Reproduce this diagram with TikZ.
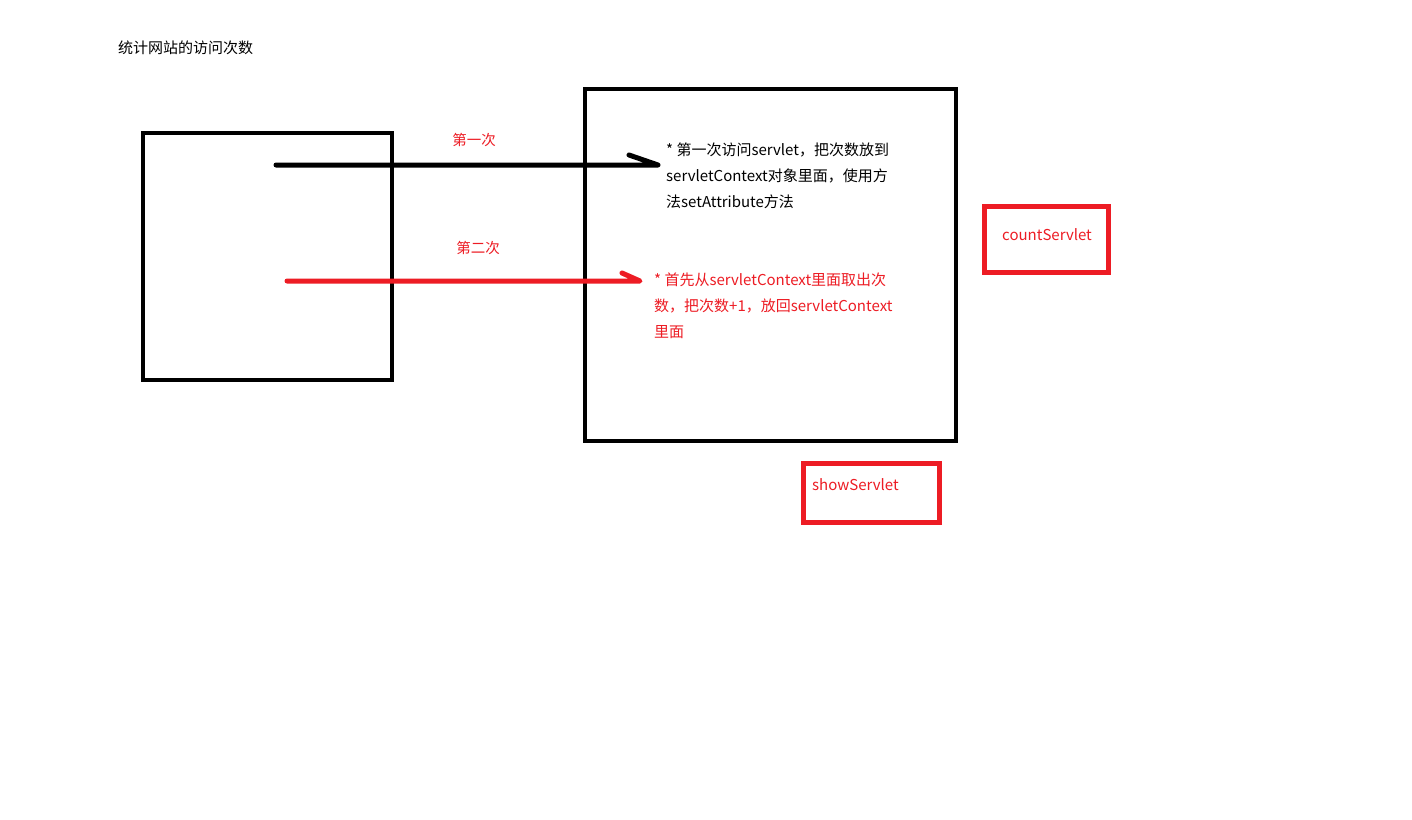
\documentclass[tikz,border=0pt]{standalone}
\usepackage{fontspec}
\setmainfont{Noto Sans CJK SC}
\definecolor{pred}{HTML}{ED1C24}
\begin{document}
\begin{tikzpicture}[x=1pt,y=-1pt,
  box/.style={draw=black,line width=4.5pt},
  rbox/.style={draw=pred,line width=5pt},
  txt/.style={inner sep=0pt,anchor=west,font=\fontsize{15}{26}\selectfont,align=left},
  lbl/.style={inner sep=0pt,font=\fontsize{14.5}{16}\selectfont,text=pred},
  arr/.style={line width=5pt,line cap=round,line join=round}]
\useasboundingbox[fill=white] (0,0) rectangle (1412,819);
\node[txt,font=\fontsize{15}{16}\selectfont] (title) at (118,48) {统计网站的访问次数};
\draw[box] (143,133) rectangle (392,380);
\node[inner sep=0pt] (client) at (267.5,256.5) {};
\draw[box] (585,89) rectangle (956,441);
\node[inner sep=0pt] (server) at (770.5,265) {};
\draw[rbox] (984,206) rectangle (1108,272);
\node[txt,text=pred] (count) at (1002,235) {countServlet};
\draw[rbox] (803,463) rectangle (939,522);
\node[txt,text=pred] (show) at (812,485) {showServlet};
\coordinate (a1s) at (276,165);
\coordinate (a1e) at (658,165);
\coordinate (a1b) at (629,155);
\coordinate (a2s) at (287,281);
\coordinate (a2e) at (640,281);
\coordinate (a2b) at (622,273);
\draw[arr,black] (a1s) -- (a1e) -- (a1b);
\draw[arr,pred] (a2s) -- (a2e) -- (a2b);
\node[lbl] (l1) at (474,140) {第一次};
\node[lbl] (l2) at (478,248) {第二次};
\node[txt,anchor=north west] (t1) at (666,143) {* 第一次访问servlet，把次数放到\\servletContext对象里面，使用方\\法setAttribute方法};
\node[txt,anchor=north west,text=pred] (t2) at (654,273) {* 首先从servletContext里面取出次\\数，把次数+1，放回servletContext\\里面};
\end{tikzpicture}
\end{document}
